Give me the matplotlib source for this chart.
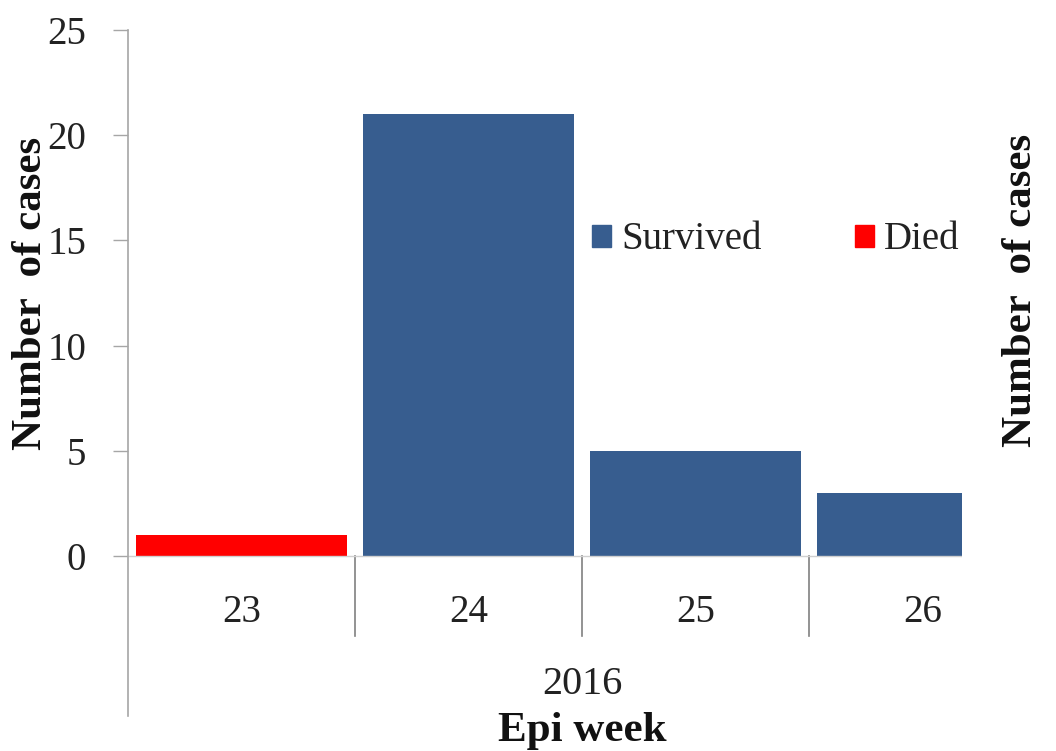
import matplotlib
matplotlib.use('Agg')
import matplotlib.pyplot as plt
from matplotlib.patches import Patch, Rectangle

plt.rcParams['font.family'] = ['Liberation Serif', 'DejaVu Serif']

# epi weeks and case counts
weeks = ['23', '24', '25', '26']
survived = [0, 21, 5, 3]
died = [1, 0, 0, 0]
year_label = '2016'
yticks = [0, 5, 10, 15, 20, 25]

blue = '#375D8F'
red = '#FF0000'
txt = '#222222'

W, H = 1056, 751
fig = plt.figure(figsize=(W / 100, H / 100), dpi=100)
ax = fig.add_axes([128 / W, 1 - 556 / H, (1036 - 128) / W, (556 - 30) / H])

x = list(range(len(weeks)))
ax.bar(x, survived, width=0.93, color=blue, label='Survived', zorder=2)
ax.bar(x, died, width=0.93, color=red, label='Died', zorder=2)

ax.set_xlim(-0.5, len(weeks) - 0.5)
ax.set_ylim(0, 25)
ax.set_yticks(yticks)
ax.set_xticks(x)
ax.set_xticklabels(weeks)

for s in ['top', 'right', 'left']:
    ax.spines[s].set_visible(False)
ax.spines['bottom'].set_color('#D0D0D0')
ax.spines['bottom'].set_linewidth(1)

ax.tick_params(axis='y', direction='out', length=11, width=1, color='#A6A6A6',
               labelsize=28, labelcolor=txt, pad=19)
ax.tick_params(axis='x', length=0, labelsize=28, labelcolor=txt, pad=27)

# long vertical axis line reaching below the category row
ax.plot([0, 0], [-0.304, 1.0], transform=ax.transAxes, color='#A6A6A6',
        lw=1.2, clip_on=False, zorder=3)
# category separators under the axis
trans = ax.get_xaxis_transform()
for b in [0.5, 1.5, 2.5, 3.5]:
    ax.plot([b, b], [0, -0.152], transform=trans, color='#808080', lw=1.2,
            clip_on=False)

ax.text(-0.107, 0.5, 'Number  of cases', transform=ax.transAxes, rotation=90,
        ha='center', va='center', fontsize=31, fontweight='bold', color='#111111')
ax.text(0.5, -0.245, year_label, transform=ax.transAxes, ha='center', va='center',
        fontsize=29, color=txt)
ax.text(0.5, -0.333, 'Epi week', transform=ax.transAxes, ha='center', va='center',
        fontsize=31, fontweight='bold', color='#111111')

handles = [Patch(color=blue, label='Survived'), Patch(color=red, label='Died')]
fig.legend(handles=handles, loc='center left', bbox_to_anchor=(592 / W, 1 - 240 / H),
           bbox_transform=fig.transFigure, ncol=2, frameon=False, fontsize=28,
           handlelength=0.5, handleheight=0.5, handletextpad=0.25,
           columnspacing=2.4, borderpad=0, borderaxespad=0, labelcolor=txt)

# the image is cut from a composite: next panel starts at the right edge
fig.add_artist(Rectangle((962 / W, 0), 1 - 962 / W, 1, transform=fig.transFigure,
                         facecolor='white', edgecolor='none', zorder=5))
fig.text(1021 / W, 1 - 290 / H, 'Number  of cases', rotation=90, ha='center',
         va='center', fontsize=31, fontweight='bold', color='#111111', zorder=6)

fig.savefig('out.png', dpi=100)
